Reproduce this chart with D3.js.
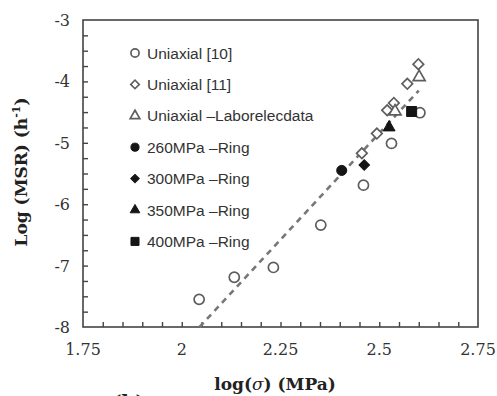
<!DOCTYPE html>
<html>
<head>
<meta charset="utf-8">
<script src="https://cdn.jsdelivr.net/npm/d3@7"></script>
<style>
  html, body { margin: 0; padding: 0; background: #fff; }
  svg { display: block; }
</style>
</head>
<body>
<div id="chart"></div>
<script>
// log(sigma) / log(MSR) pairs
const uniaxial10 = [
  [2.044, -7.55], [2.133, -7.19], [2.232, -7.03], [2.352, -6.34],
  [2.460, -5.69], [2.531, -5.01], [2.603, -4.51]
];
const uniaxial11 = [
  [2.456, -5.17], [2.494, -4.85], [2.520, -4.47], [2.537, -4.35],
  [2.571, -4.04], [2.599, -3.72]
];
const laborelec = [[2.540, -4.49], [2.601, -3.93]];
const ring260 = [[2.405, -5.45]];
const ring300 = [[2.462, -5.36]];
const ring350 = [[2.525, -4.75]];
const ring400 = [[2.582, -4.49]];
const trendLine = [[2.045, -8.0], [2.600, -4.15]];

const xTickLabels = [1.75, 2, 2.25, 2.5, 2.75];
const yTickLabels = [-3, -4, -5, -6, -7, -8];

const legendLabels = [
  'Uniaxial [10]', 'Uniaxial [11]', 'Uniaxial \u2013Laborelecdata',
  '260MPa \u2013Ring', '300MPa \u2013Ring', '350MPa \u2013Ring', '400MPa \u2013Ring'
];

const width = 497, height = 396;
const margin = { top: 20, right: 19, bottom: 69, left: 83 };

const svg = d3.select('#chart').append('svg')
  .attr('width', width)
  .attr('height', height);

svg.append('rect').attr('width', width).attr('height', height).attr('fill', '#fff');

const x = d3.scaleLinear().domain([1.75, 2.75]).range([margin.left, width - margin.right]);
const y = d3.scaleLinear().domain([-8, -3]).range([height - margin.bottom, margin.top]);

const axisColor = '#444';
const openColor = '#5e5e5e';
const fillColor = '#151515';

// marker definitions
const series = [
  { data: uniaxial10, type: 'circle', filled: false },
  { data: uniaxial11, type: 'diamond', filled: false },
  { data: laborelec, type: 'triangle', filled: false },
  { data: ring260, type: 'circle', filled: true },
  { data: ring300, type: 'diamond', filled: true },
  { data: ring350, type: 'triangle', filled: true },
  { data: ring400, type: 'square', filled: true }
];

function markerPath(type, scale) {
  const s = scale || 1;
  if (type === 'circle') return d3.symbol(d3.symbolCircle, 80 * s)();
  if (type === 'diamond') return d3.symbol(d3.symbolSquare, 56 * s)();
  if (type === 'triangle') return d3.symbol(d3.symbolTriangle, 62 * s)();
  return d3.symbol(d3.symbolSquare, 100 * s)();
}

function drawMarker(g, type, filled, scale) {
  const p = g.append('path')
    .attr('d', markerPath(type, scale))
    .attr('fill', filled ? fillColor : '#fff')
    .attr('stroke', filled ? fillColor : openColor)
    .attr('stroke-width', filled ? 1 : 1.7);
  if (type === 'diamond') p.attr('transform', 'rotate(45)');
  return p;
}

// frame
svg.append('rect')
  .attr('x', x(1.75)).attr('y', y(-3))
  .attr('width', x(2.75) - x(1.75)).attr('height', y(-8) - y(-3))
  .attr('fill', 'none').attr('stroke', axisColor).attr('stroke-width', 1.6);

// inside ticks
const xAxis = d3.axisTop(x).tickValues(d3.range(1.8, 2.749, 0.05)).tickSize(5).tickFormat('');
svg.append('g').attr('transform', `translate(0,${y(-8)})`).call(xAxis)
  .call(g => g.select('.domain').remove())
  .selectAll('line').attr('stroke', axisColor).attr('stroke-width', 1.4);

const yAxis = d3.axisRight(y).tickValues(d3.range(-7.75, -3.01, 0.25)).tickSize(5).tickFormat('');
svg.append('g').attr('transform', `translate(${x(1.75)},0)`).call(yAxis)
  .call(g => g.select('.domain').remove())
  .selectAll('line').attr('stroke', axisColor).attr('stroke-width', 1.4);

// tick labels
svg.append('g').selectAll('text').data(xTickLabels).join('text')
  .attr('x', d => x(d)).attr('y', y(-8) + 28)
  .attr('text-anchor', 'middle')
  .attr('font-family', 'DejaVu Serif').attr('font-size', 16).attr('fill', '#333')
  .text(d => d);

svg.append('g').selectAll('text').data(yTickLabels).join('text')
  .attr('x', x(1.75) - 13).attr('y', d => y(d) + 6)
  .attr('text-anchor', 'end')
  .attr('font-family', 'DejaVu Serif').attr('font-size', 16).attr('fill', '#333')
  .text(d => d);

// axis titles
const xt = svg.append('text')
  .attr('x', 275).attr('y', 390)
  .attr('text-anchor', 'middle')
  .attr('font-family', 'DejaVu Serif').attr('font-weight', 'bold')
  .attr('font-size', 17).attr('fill', '#222');
xt.append('tspan').text('log(');
xt.append('tspan').attr('font-style', 'italic').attr('font-weight', 'normal').text('\u03c3');
xt.append('tspan').text(') (MPa)');

const yt = svg.append('text')
  .attr('transform', 'translate(27,172) rotate(-90)')
  .attr('text-anchor', 'middle')
  .attr('font-family', 'DejaVu Serif').attr('font-weight', 'bold')
  .attr('font-size', 17).attr('fill', '#222');
yt.append('tspan').text('Log (MSR) (h');
yt.append('tspan').attr('font-size', 11).attr('dy', -7).text('-1');
yt.append('tspan').attr('dy', 7).text(')');

// partial panel label at bottom edge
svg.append('text')
  .attr('x', 112).attr('y', 410)
  .attr('font-family', 'DejaVu Serif').attr('font-weight', 'bold')
  .attr('font-size', 20).attr('fill', '#222')
  .text('(b)');

// trend line
svg.append('path')
  .datum(trendLine)
  .attr('fill', 'none')
  .attr('stroke', '#777')
  .attr('stroke-width', 2.6)
  .attr('stroke-dasharray', '6,5')
  .attr('d', d3.line().x(d => x(d[0])).y(d => y(d[1])));

// points
series.forEach(s => {
  s.data.forEach(d => {
    const g = svg.append('g').attr('transform', `translate(${x(d[0])},${y(d[1])})`);
    drawMarker(g, s.type, s.filled, 1);
  });
});

// legend
const legend = svg.append('g').attr('transform', 'translate(135,53)');
legendLabels.forEach((label, i) => {
  const row = legend.append('g').attr('transform', `translate(0,${i * 31.4})`);
  const m = row.append('g');
  drawMarker(m, series[i].type, series[i].filled, 0.65);
  row.append('text')
    .attr('x', 12).attr('y', 5.5)
    .attr('font-family', 'Liberation Sans').attr('font-size', 15.5).attr('fill', '#333')
    .text(label);
});
</script>
</body>
</html>
